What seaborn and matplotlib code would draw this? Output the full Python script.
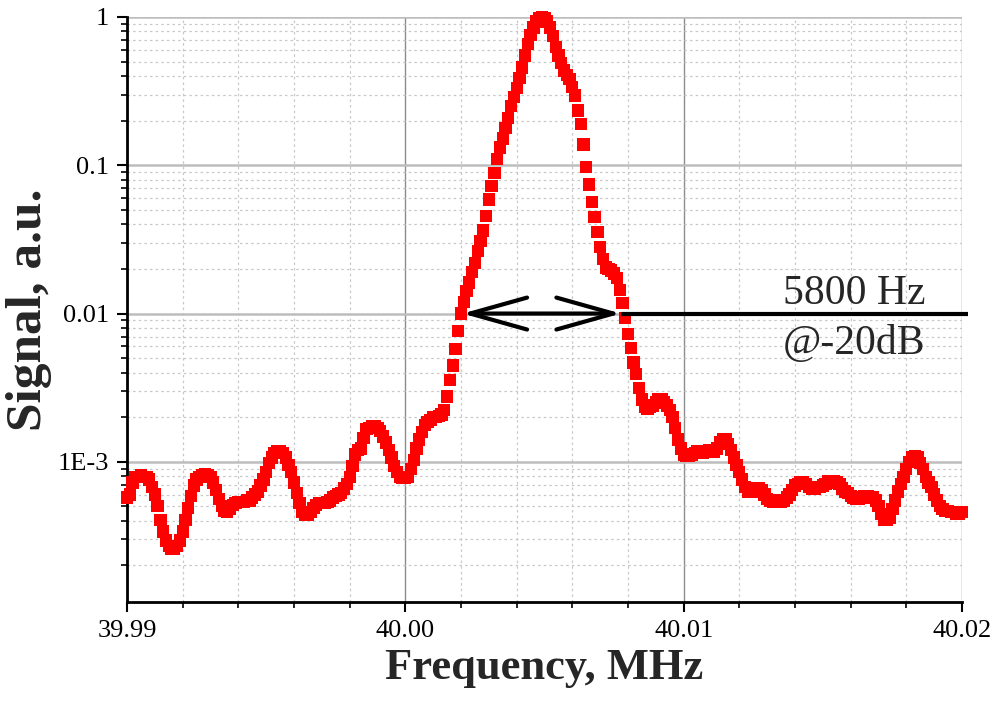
import numpy as np
import matplotlib
matplotlib.use("Agg")
import matplotlib.pyplot as plt
import matplotlib.ticker as mticker
import seaborn as sns

# Spectrum around 40 MHz, 100 Hz step, signal in dB (0 dB = peak)
f_start = 39.99
f_step = 0.0001
signal_db = [
    -32.4, -32.2, -31.4, -31.0, -31.0, -30.9, -31.0, -31.0, -31.2, -31.7,
    -32.2, -33.0, -33.9, -34.7, -35.3, -35.7, -35.9, -35.9, -35.7, -35.3,
    -34.7, -33.9, -33.1, -32.3, -31.6, -31.2, -31.0, -30.9, -30.8, -30.9,
    -31.0, -31.4, -31.9, -32.5, -33.0, -33.3, -33.4, -33.2, -32.9, -32.8,
    -32.7, -32.7, -32.7, -32.6, -32.6, -32.4, -32.2, -32.0, -31.6, -31.2,
    -30.7, -30.1, -29.7, -29.4, -29.3, -29.3, -29.4, -29.7, -30.2, -30.7,
    -31.4, -32.1, -32.8, -33.4, -33.6, -33.6, -33.4, -33.1, -32.9, -32.8,
    -32.8, -32.8, -32.7, -32.6, -32.4, -32.3, -32.2, -32.1, -31.8, -31.5,
    -31.0, -30.3, -29.5, -29.2, -29.1, -28.4, -27.8, -27.7, -27.6, -27.6,
    -27.7, -27.9, -28.3, -28.7, -29.2, -29.7, -30.3, -30.7, -31.0, -31.1,
    -31.1, -31.0, -30.5, -29.9, -29.1, -28.5, -28.0, -27.5, -27.3, -27.2,
    -27.0, -27.0, -26.9, -26.8, -26.5, -25.6, -24.5, -23.5, -22.4, -21.2,
    -20.0, -19.2, -18.5, -17.9, -17.2, -16.6, -15.8, -15.1, -14.4, -13.4,
    -12.3, -11.4, -10.5, -9.6, -8.8, -8.2, -7.5, -6.8, -6.0, -5.4,
    -4.8, -4.1, -3.4, -2.6, -1.8, -1.2, -0.7, -0.3, -0.1, 0.0,
    -0.1, -0.3, -0.7, -1.3, -2.0, -2.6, -3.1, -3.6, -3.9, -4.2,
    -4.7, -5.3, -6.3, -7.2, -8.6, -10.1, -11.3, -12.5, -13.5, -14.5,
    -15.5, -16.3, -16.9, -17.0, -17.1, -17.3, -17.6, -18.4, -19.3, -20.3,
    -21.4, -22.3, -23.3, -24.1, -25.0, -25.8, -26.3, -26.4, -26.3, -26.2,
    -26.0, -25.8, -25.8, -26.0, -26.2, -26.5, -27.0, -27.7, -28.5, -29.1,
    -29.5, -29.6, -29.6, -29.5, -29.4, -29.3, -29.4, -29.4, -29.3, -29.2,
    -29.3, -29.3, -29.1, -28.7, -28.5, -28.5, -28.8, -29.2, -29.7, -30.2,
    -30.7, -31.2, -31.7, -32.0, -32.0, -32.0, -31.8, -31.8, -31.9, -32.2,
    -32.5, -32.6, -32.7, -32.7, -32.6, -32.7, -32.6, -32.4, -32.2, -31.9,
    -31.6, -31.5, -31.4, -31.4, -31.5, -31.7, -31.8, -31.8, -31.7, -31.7,
    -31.6, -31.5, -31.3, -31.3, -31.3, -31.4, -31.5, -31.8, -32.0, -32.1,
    -32.3, -32.4, -32.5, -32.5, -32.4, -32.3, -32.3, -32.4, -32.4, -32.6,
    -33.0, -33.5, -33.9, -33.9, -33.8, -33.2, -32.6, -32.0, -31.5, -31.0,
    -30.5, -30.0, -29.7, -29.6, -29.7, -30.1, -30.5, -31.0, -31.4, -31.7,
    -32.2, -32.6, -33.0, -33.2, -33.3, -33.3, -33.4, -33.4, -33.5, -33.5,
    -33.4,
]

# -20 dB crossing points and annotation text
width_lo = 40.00205
width_hi = 40.00775
level_20db = 0.01
label_top = "5800 Hz"
label_bottom = "@-20dB"

xticks = [39.99, 40.00, 40.01, 40.02]
yticks = [1e-3, 1e-2, 1e-1, 1]
ytick_labels = ["1E-3", "0.01", "0.1", "1"]

freq = np.round(f_start + f_step * np.arange(len(signal_db)), 4)
signal = 10 ** (np.array(signal_db) / 10.0)

sns.set_style("ticks")
plt.rcParams["font.family"] = ["Liberation Serif", "DejaVu Serif"]

fig = plt.figure(figsize=(9.93, 7.02), dpi=100)
ax = fig.add_axes([0.1279, 0.1425, 0.8409, 0.8333])

ax.set_yscale("log")
ax.set_xlim(39.99, 40.02)
ax.set_ylim(1.135e-4, 1.0)

# grid: solid major, dotted minor
ax.set_axisbelow(True)
ax.xaxis.grid(True, which="major", color="#8c8c8c", linewidth=1.0)
ax.yaxis.grid(True, which="major", color="#bdbdbd", linewidth=1.8)
ax.grid(True, which="minor", color="#c8c8c8", linewidth=0.9, linestyle=(0, (2, 2.5)))

sns.scatterplot(
    x=freq,
    y=signal,
    ax=ax,
    marker="s",
    s=78,
    color="#ff0000",
    edgecolor="none",
    linewidth=0,
    clip_on=False,
    zorder=3,
)

# -20 dB width arrow + baseline extending to the right edge
ax.plot([width_hi, 40.0202], [level_20db, level_20db], color="black", lw=3,
        clip_on=False, zorder=4, solid_capstyle="butt")
ax.annotate(
    "",
    xy=(width_lo, level_20db),
    xytext=(width_hi, level_20db),
    arrowprops=dict(arrowstyle="<->,head_length=4.1,head_width=1.15",
                    color="black", lw=3, shrinkA=0, shrinkB=0),
    zorder=4,
)
ax.text(40.01612, 0.0137, label_top, fontsize=30, ha="center", va="center")
ax.text(40.01612, 0.00625, label_bottom, fontsize=30, ha="center", va="center")

ax.set_xticks(xticks)
ax.xaxis.set_major_formatter(mticker.FormatStrFormatter("%.2f"))
ax.xaxis.set_minor_locator(mticker.MultipleLocator(0.002))
ax.set_yticks(yticks)
ax.set_yticklabels(ytick_labels)
ax.yaxis.set_minor_locator(mticker.LogLocator(base=10, subs=np.arange(2, 10)))
ax.yaxis.set_minor_formatter(mticker.NullFormatter())

ax.tick_params(which="major", direction="out", length=7, width=1.5,
               labelsize=19, colors="black", pad=6)
ax.tick_params(which="minor", direction="out", length=4, width=1.2, colors="black")

for side in ["top", "right"]:
    ax.spines[side].set_visible(False)
for side in ["left", "bottom"]:
    ax.spines[side].set_linewidth(2)
    ax.spines[side].set_color("black")

ax.set_xlabel("Frequency, MHz", fontsize=32, fontweight="bold", labelpad=4)
ax.set_ylabel("Signal, a.u.", fontsize=37, fontweight="bold", labelpad=4)

fig.savefig("out.png", dpi=100)
